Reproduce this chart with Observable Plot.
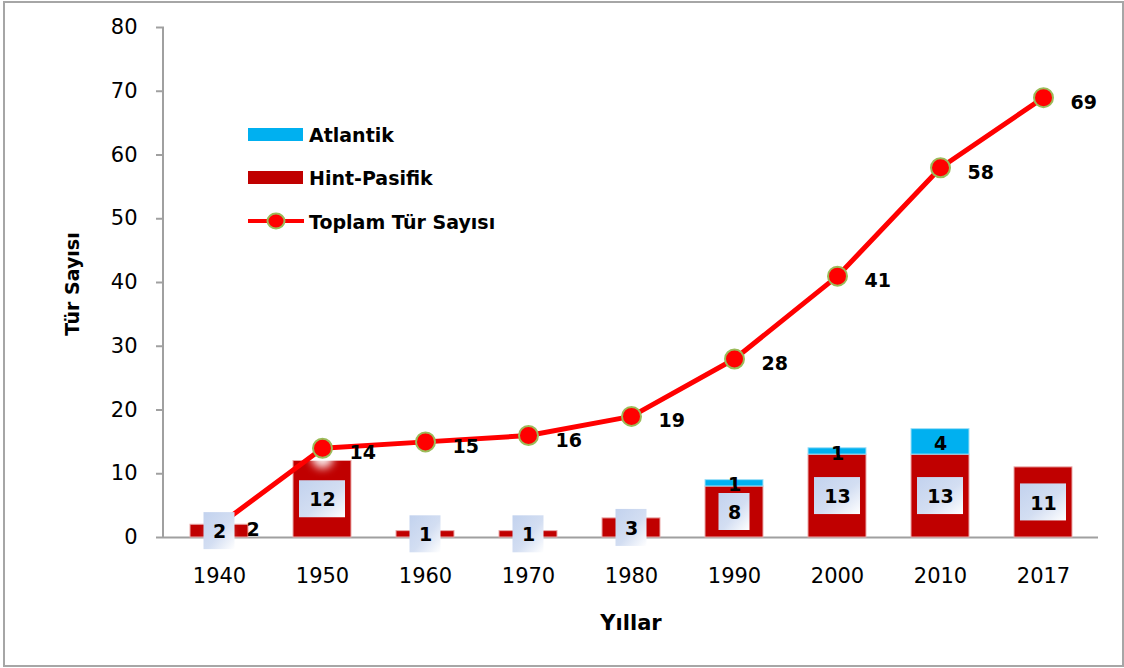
<!DOCTYPE html>
<html><head><meta charset="utf-8">
<script src="https://cdn.jsdelivr.net/npm/d3@7"></script>
<script src="https://cdn.jsdelivr.net/npm/@observablehq/plot@0.6"></script>
<style>
html,body{margin:0;padding:0;background:#fff;}
#wrap{position:relative;width:1124px;height:668px;overflow:hidden;}
#chart{position:absolute;left:0;top:0;}
#frame{position:absolute;left:3px;top:1px;width:1121px;height:666px;border:2px solid #a6a6a6;box-sizing:border-box;pointer-events:none}
#chart svg [aria-label^="x-axis"] text, #chart svg [aria-label^="y-axis"] text {font-size:21px !important; fill:#000;}
</style></head><body>
<div id="wrap"><div id="chart"></div><div id="frame"></div></div>
<script>
// ---- data ----
const years = ["1940","1950","1960","1970","1980","1990","2000","2010","2017"];
const hintPasifik = [2,12,1,1,3,8,13,13,11];
const atlantik = [0,0,0,0,0,1,1,4,0];
const toplam = [2,14,15,16,19,28,41,58,69];
const yTickCount = 8;
const seriesNames = ["Atlantik","Hint-Pasifik","Toplam Tür Sayısı"];
const xTitle = "Yıllar";
const yTitle = "Tür Sayısı";

const rows = years.map((y,i)=>({year:y, hp:hintPasifik[i], at:atlantik[i], total:toplam[i]}));

// ---- layout ----
const W = 1124, H = 668;
const mL = 164, mR = 26, mT = 27, mB = 131;
const pxPerUnit = (H - mT - mB) / 80;
const boxHalf = 18.5 / pxPerUnit;
const RED = "#c00000", BLUE = "#00b0f0", LINE = "#ff0000", DOTSTROKE = "#9bbb59";
const FONT = "DejaVu Sans, Verdana, sans-serif";

const plot = Plot.plot({
  width: W, height: H,
  marginLeft: mL, marginRight: mR, marginTop: mT, marginBottom: mB,
  style: {fontFamily: FONT, fontSize: "21px", background: "transparent", color: "#000"},
  x: {domain: years, paddingInner: 0.44, paddingOuter: 0.22, tickSize: 0, tickPadding: 31, label: null},
  y: {domain: [0, 80], ticks: yTickCount, tickSize: 8, tickPadding: 19, label: null},
  marks: [
    Plot.ruleY([0], {stroke: "#a0a0a0", strokeWidth: 2}),
    Plot.barY(rows, {x: "year", y1: 0, y2: "hp", fill: RED, stroke: "#e9a9a9", strokeWidth: 1}),
    Plot.barY(rows.filter(d => d.at > 0), {x: "year", y1: "hp", y2: d => d.hp + d.at, fill: BLUE, stroke: "#9fe0f7", strokeWidth: 1}),
    Plot.dot(rows, {x: "year", y: "total", r: 11, dy: 9, fill: "#ffffff", fillOpacity: 0.9, stroke: "none"}),
    Plot.line(rows, {x: "year", y: "total", stroke: LINE, strokeWidth: 5, curve: "linear"}),
    Plot.dot(rows, {x: "year", y: "total", r: 9.5, fill: LINE, stroke: DOTSTROKE, strokeWidth: 2}),
    Plot.text(rows, {x: "year", y: "total", text: d => String(d.total), dx: 27, dy: 5, textAnchor: "start", fontWeight: "bold", fontSize: 19, fill: "#000"}),
    Plot.barY(rows.filter(d => d.hp >= 10), {x: "year", y1: d => d.hp/2 - boxHalf, y2: d => d.hp/2 + boxHalf, fill: "url(#lblGrad)", insetLeft: 6, insetRight: 6}),
    Plot.barY(rows.filter(d => d.hp < 10), {x: "year", y1: d => d.hp/2 - boxHalf, y2: d => d.hp/2 + boxHalf, fill: "url(#lblGrad)", insetLeft: 13.5, insetRight: 13.5}),
    Plot.text(rows, {x: "year", y: d => d.hp/2, text: d => String(d.hp), dy: 1, fontWeight: "bold", fontSize: 19, fill: "#000"}),
    Plot.text(rows.filter(d => d.at > 0), {x: "year", y: d => d.hp + d.at/2, text: d => String(d.at), dy: 2, fontWeight: "bold", fontSize: 19, fill: "#000"})
  ]
});

document.getElementById("chart").appendChild(plot);
const svg = d3.select(plot.tagName.toLowerCase() === "svg" ? plot : plot.querySelector("svg"));

// defs: gradient for label boxes, glow blur for markers
const defs = svg.insert("defs", ":first-child");
const g = defs.append("linearGradient").attr("id", "lblGrad")
  .attr("x1", "0%").attr("y1", "0%").attr("x2", "100%").attr("y2", "100%");
g.append("stop").attr("offset", "0%").attr("stop-color", "#c2d2ee");
g.append("stop").attr("offset", "55%").attr("stop-color", "#d3def2");
g.append("stop").attr("offset", "100%").attr("stop-color", "#ffffff");
defs.append("filter").attr("id", "glow").attr("x", "-50%").attr("y", "-50%").attr("width", "200%").attr("height", "200%")
  .append("feGaussianBlur").attr("stdDeviation", 4);
const dotGroups = svg.selectAll('g[aria-label="dot"]').nodes();
if (dotGroups.length) d3.select(dotGroups[0]).attr("filter", "url(#glow)");

// axis styling
svg.selectAll('[aria-label^="y-axis"] line, [aria-label^="y-axis"] path').attr("stroke", "#a0a0a0").attr("stroke-width", 2);
svg.selectAll('[aria-label^="x-axis"] line, [aria-label^="x-axis"] path').attr("stroke", "none");

const ys = plot.scale("y");
svg.append("line").attr("x1", mL - 1).attr("x2", mL - 1)
  .attr("y1", ys.apply(0) + 1).attr("y2", ys.apply(80))
  .attr("stroke", "#a0a0a0").attr("stroke-width", 2);

// axis titles
svg.append("text").attr("transform", `translate(72,${(mT + H - mB)/2 + 2}) rotate(-90)`)
  .attr("text-anchor", "middle").attr("dominant-baseline", "central")
  .attr("font-family", FONT).attr("font-weight", "bold").attr("font-size", 19).attr("fill", "#000")
  .text(yTitle);
svg.append("text").attr("x", 631).attr("y", 623)
  .attr("text-anchor", "middle").attr("dominant-baseline", "central")
  .attr("font-family", FONT).attr("font-weight", "bold").attr("font-size", 21).attr("fill", "#000")
  .text(xTitle);

// legend
const lg = svg.append("g").attr("font-family", FONT).attr("font-weight", "bold").attr("font-size", 19).attr("fill", "#000").attr("text-anchor", "start");
lg.append("rect").attr("x", 248).attr("y", 128).attr("width", 55).attr("height", 13).attr("fill", BLUE);
lg.append("text").attr("x", 309).attr("y", 135).attr("dominant-baseline", "central").attr("text-anchor", "start").text(seriesNames[0]);
lg.append("rect").attr("x", 248).attr("y", 171).attr("width", 55).attr("height", 13).attr("fill", RED);
lg.append("text").attr("x", 309).attr("y", 178).attr("dominant-baseline", "central").attr("text-anchor", "start").text(seriesNames[1]);
lg.append("line").attr("x1", 248).attr("x2", 304).attr("y1", 221).attr("y2", 221).attr("stroke", LINE).attr("stroke-width", 4);
lg.append("ellipse").attr("cx", 276).attr("cy", 221).attr("rx", 8.5).attr("ry", 7.5).attr("fill", LINE).attr("stroke", DOTSTROKE).attr("stroke-width", 2);
lg.append("text").attr("x", 309).attr("y", 222).attr("dominant-baseline", "central").attr("text-anchor", "start").text(seriesNames[2]);
</script>
</body></html>
